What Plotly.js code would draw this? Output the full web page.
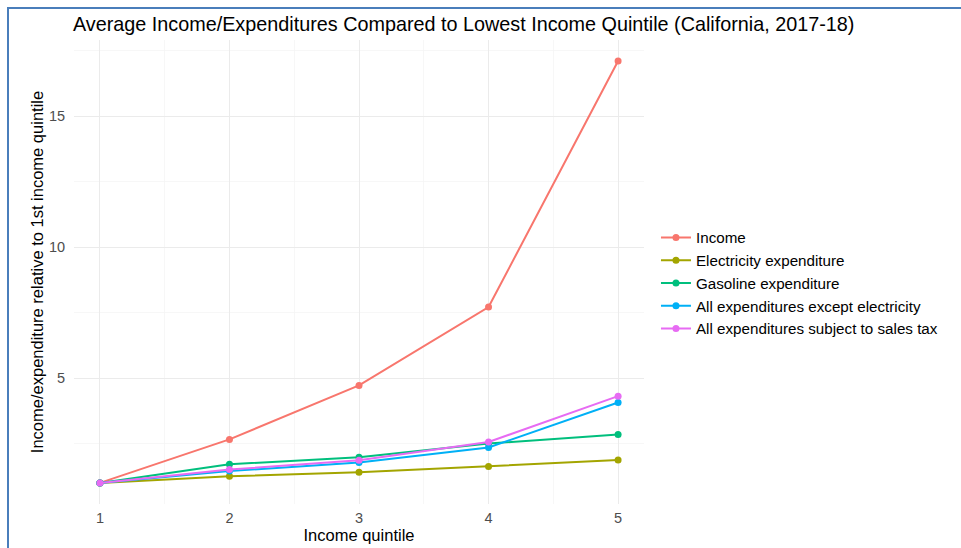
<!DOCTYPE html>
<html>
<head>
<meta charset="utf-8">
<script src="https://cdn.plot.ly/plotly-3.0.1.min.js"></script>
<style>
  html, body { margin: 0; padding: 0; background: #fff; }
  #wrap { position: relative; width: 961px; height: 548px; overflow: hidden; }
  #chart { width: 961px; height: 548px; }
  #frame { position: absolute; left: 7px; top: 7px; right: -10px; bottom: -10px;
           border-left: 2px solid #4A7EBB; border-top: 2px solid #4A7EBB; pointer-events: none; }
</style>
</head>
<body>
<div id="wrap">
  <div id="chart"></div>
  <div id="frame"></div>
</div>
<script>
const quintiles = [1, 2, 3, 4, 5];
const income      = [1, 2.66, 4.72, 7.71, 17.1];
const electricity = [1, 1.25, 1.41, 1.63, 1.87];
const gasoline    = [1, 1.71, 1.98, 2.50, 2.85];
const allExceptElec = [1, 1.45, 1.78, 2.35, 4.07];
const salesTax    = [1, 1.51, 1.86, 2.56, 4.31];
const seriesNames = ["Income", "Electricity expenditure", "Gasoline expenditure",
                     "All expenditures except electricity", "All expenditures subject to sales tax"];
const seriesColors = ["#F8766D", "#A3A500", "#00BF7D", "#00B0F6", "#E76BF3"];
const seriesValues = [income, electricity, gasoline, allExceptElec, salesTax];

const FONT = "Liberation Sans, Arial, sans-serif";

const traces = seriesValues.map((vals, i) => ({
  type: "scatter",
  mode: "lines+markers",
  x: quintiles,
  y: vals,
  name: seriesNames[i],
  line: { color: seriesColors[i], width: 2 },
  marker: { color: seriesColors[i], size: 7 }
}));

const layout = {
  width: 961, height: 548,
  paper_bgcolor: "#ffffff",
  plot_bgcolor: "#ffffff",
  margin: { l: 74, r: 317, t: 40, b: 44 },
  font: { family: FONT, color: "#000" },
  title: {
    text: "Average Income/Expenditures Compared to Lowest Income Quintile (California, 2017-18)",
    font: { family: FONT, size: 19.8, color: "#000" },
    x: 73 / 961, xanchor: "left", xref: "container",
    y: 1 - 24 / 548, yanchor: "middle", yref: "container"
  },
  xaxis: {
    range: [0.8, 5.2],
    tickvals: quintiles,
    ticktext: quintiles.map(String),
    showgrid: true, gridcolor: "#EBEBEB", gridwidth: 1,
    minor: { tickvals: [1.5, 2.5, 3.5, 4.5], showgrid: true, gridcolor: "#F3F3F3", gridwidth: 0.7 },
    zeroline: false, showline: false,
    ticks: "outside", ticklen: 1, tickcolor: "rgba(0,0,0,0)",
    tickfont: { family: FONT, size: 14.5, color: "#4D4D4D" },
    title: { text: "Income quintile", font: { family: FONT, size: 16.5, color: "#000" }, standoff: 4 }
  },
  yaxis: {
    range: [0.195, 17.9],
    tickvals: [5, 10, 15],
    showgrid: true, gridcolor: "#EBEBEB", gridwidth: 1,
    minor: { tickvals: [2.5, 7.5, 12.5, 17.5], showgrid: true, gridcolor: "#F3F3F3", gridwidth: 0.7 },
    zeroline: false, showline: false,
    ticks: "outside", ticklen: 5, tickcolor: "rgba(0,0,0,0)",
    tickfont: { family: FONT, size: 14.5, color: "#4D4D4D" },
    title: { text: "Income/expenditure relative to 1st income quintile",
             font: { family: FONT, size: 16.5, color: "#000" }, standoff: 1 }
  },
  showlegend: true,
  legend: {
    x: 1.021, xanchor: "left", xref: "paper",
    y: 0.476, yanchor: "middle",
    font: { family: FONT, size: 15.2, color: "#000" },
    itemwidth: 30,
    tracegroupgap: 0,
    bgcolor: "rgba(0,0,0,0)"
  }
};

Plotly.newPlot("chart", traces, layout, { displayModeBar: false, staticPlot: true });
</script>
</body>
</html>
